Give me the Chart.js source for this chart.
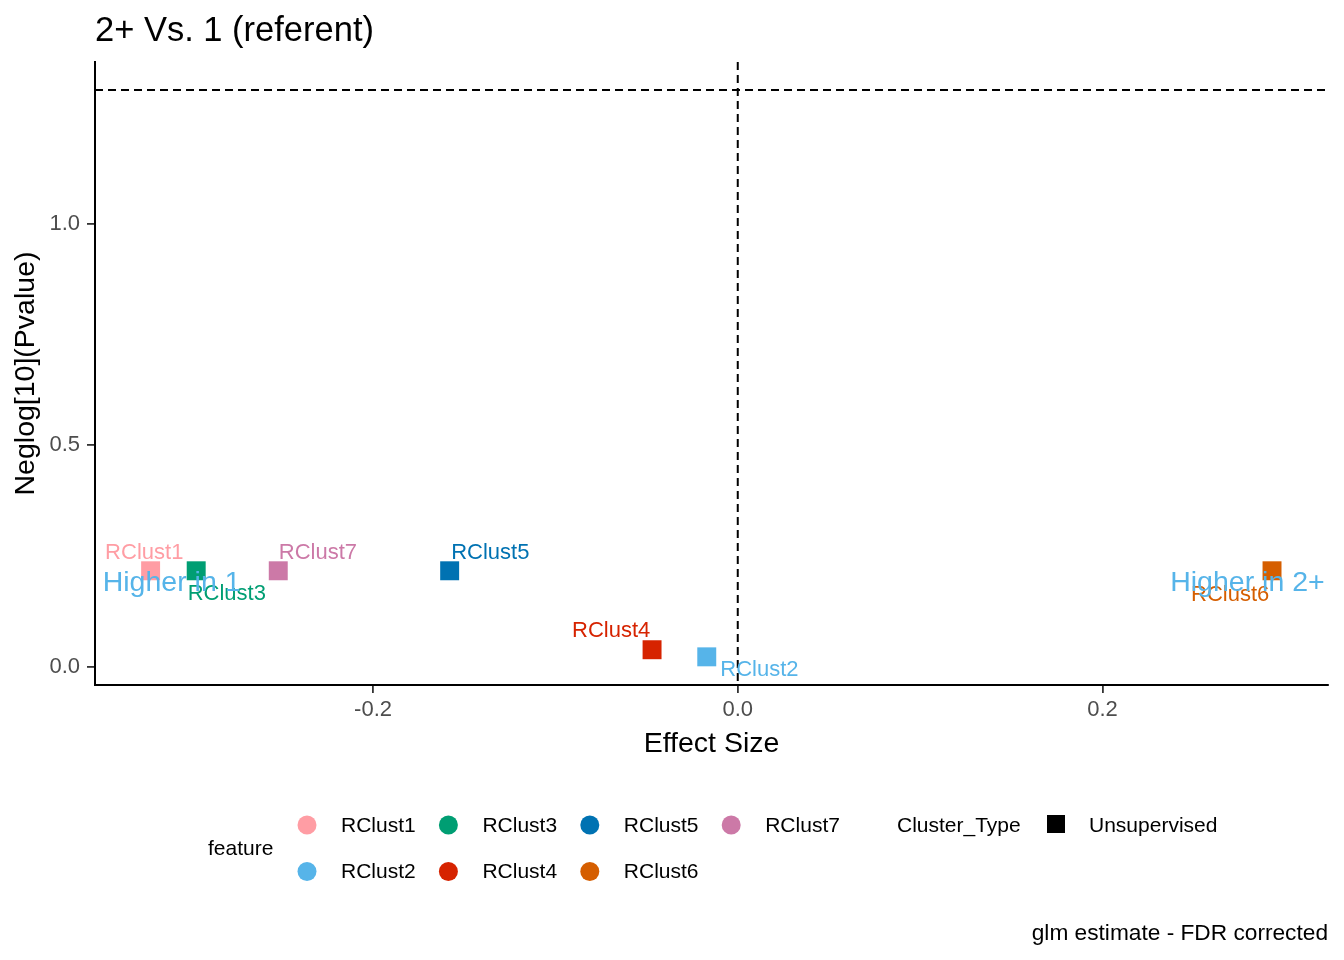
<!DOCTYPE html>
<html>
<head>
<meta charset="utf-8">
<script src="https://cdn.jsdelivr.net/npm/chart.js@4"></script>
<style>
  html, body { margin: 0; padding: 0; background: #fff; }
  canvas { display: block; }
</style>
</head>
<body>
<canvas id="volcano" width="1344" height="960"></canvas>
<script>
// data
const features = ["RClust1", "RClust2", "RClust3", "RClust4", "RClust5", "RClust6", "RClust7"];
const effectSize = [-0.322, -0.017, -0.297, -0.047, -0.158, 0.293, -0.252];
const negLogP = [0.217, 0.023, 0.217, 0.039, 0.217, 0.217, 0.217];
const xTicks = [-0.2, 0.0, 0.2];
const yTicks = [0.0, 0.5, 1.0];
const pCutoff = [-Math.log10(0.05)];
const zeroEffect = [0];
const sideNotes = ["Higher in 1", "Higher in 2+"];
const sideNoteX = [-0.3105, 0.2795];
const sideNoteY = [0.19, 0.19];

const colors = {
  RClust1: "#FF9DA4",
  RClust2: "#56B4E9",
  RClust3: "#009E73",
  RClust4: "#D62300",
  RClust5: "#0072B2",
  RClust6: "#D55E00",
  RClust7: "#CC79A7"
};

// label placement (pixel offsets from the point: left edge, baseline)
const labelNudge = {
  RClust1: [-45.5, -11.5],
  RClust2: [13.5, 19.5],
  RClust3: [-8.5, 29.5],
  RClust4: [-80, -13],
  RClust5: [1.5, -11.5],
  RClust6: [-81, 30],
  RClust7: [0.5, -11.5]
};

const FONT = "'Liberation Sans', Arial, sans-serif";

const refLines = {
  id: "refLines",
  beforeDatasetsDraw(chart) {
    const { ctx, chartArea: a, scales: { x, y } } = chart;
    ctx.save();
    ctx.strokeStyle = "#000";
    ctx.lineWidth = 2;
    ctx.setLineDash([8, 5]);
    pCutoff.forEach(v => {
      const py = y.getPixelForValue(v);
      ctx.beginPath();
      ctx.moveTo(a.left, py);
      ctx.lineTo(a.right, py);
      ctx.stroke();
    });
    zeroEffect.forEach(v => {
      const px = x.getPixelForValue(v);
      ctx.beginPath();
      ctx.moveTo(px, a.top);
      ctx.lineTo(px, a.bottom);
      ctx.stroke();
    });
    ctx.restore();
  }
};

const decorations = {
  id: "decorations",
  afterDatasetsDraw(chart) {
    const { ctx, chartArea: a, scales: { x, y } } = chart;
    ctx.save();

    // point labels
    ctx.font = `22px ${FONT}`;
    ctx.textAlign = "left";
    ctx.textBaseline = "alphabetic";
    features.forEach((f, i) => {
      const px = x.getPixelForValue(effectSize[i]);
      const py = y.getPixelForValue(negLogP[i]);
      ctx.fillStyle = colors[f];
      ctx.fillText(f, px + labelNudge[f][0], py + labelNudge[f][1]);
    });

    // direction notes
    ctx.font = `28.5px ${FONT}`;
    ctx.textAlign = "center";
    ctx.textBaseline = "middle";
    ctx.fillStyle = "#56B4E9";
    sideNotes.forEach((t, i) => {
      ctx.fillText(t, x.getPixelForValue(sideNoteX[i]), y.getPixelForValue(sideNoteY[i]));
    });

    // title
    ctx.fillStyle = "#000";
    ctx.font = `34.5px ${FONT}`;
    ctx.textAlign = "left";
    ctx.textBaseline = "alphabetic";
    ctx.fillText("2+ Vs. 1 (referent)", a.left, 41);

    // axis titles
    ctx.font = `28.5px ${FONT}`;
    ctx.textAlign = "center";
    ctx.fillText("Effect Size", (a.left + a.right) / 2, 752);
    ctx.save();
    ctx.translate(26, (a.top + a.bottom) / 2);
    ctx.rotate(-Math.PI / 2);
    ctx.textBaseline = "middle";
    ctx.fillText("Neglog[10](Pvalue)", 0, 0);
    ctx.restore();

    // caption
    ctx.font = `22.7px ${FONT}`;
    ctx.textAlign = "right";
    ctx.fillText("glm estimate - FDR corrected", a.right, 940);

    // legend
    ctx.font = `21px ${FONT}`;
    ctx.textAlign = "left";
    ctx.textBaseline = "middle";
    ctx.fillText("feature", 208, 849);
    const legendOrder = ["RClust1", "RClust2", "RClust3", "RClust4", "RClust5", "RClust6", "RClust7"];
    legendOrder.forEach((f, i) => {
      const col = Math.floor(i / 2);
      const row = i % 2;
      const cx = 307 + col * 141.4;
      const cy = 825 + row * 46.5;
      ctx.fillStyle = colors[f];
      ctx.beginPath();
      ctx.arc(cx, cy, 9.5, 0, Math.PI * 2);
      ctx.fill();
      ctx.fillStyle = "#000";
      ctx.fillText(f, cx + 34, cy + 1);
    });
    ctx.fillText("Cluster_Type", 897, 826);
    ctx.fillRect(1047, 815, 18, 18);
    ctx.fillText("Unsupervised", 1089, 826);

    ctx.restore();
  }
};

new Chart(document.getElementById("volcano").getContext("2d"), {
  type: "scatter",
  data: {
    datasets: features.map((f, i) => ({
      label: f,
      data: [{ x: effectSize[i], y: negLogP[i] }],
      backgroundColor: colors[f],
      borderWidth: 0,
      pointStyle: "rect",
      pointRadius: 13.4,
      pointHoverRadius: 13.4
    }))
  },
  options: {
    responsive: false,
    animation: false,
    events: [],
    devicePixelRatio: 1,
    layout: { padding: { top: 62, right: 16, bottom: 0, left: 0 } },
    plugins: {
      legend: { display: false },
      title: { display: false },
      tooltip: { enabled: false }
    },
    scales: {
      x: {
        type: "linear",
        min: -0.3525,
        max: 0.3237,
        afterFit: s => { s.height = 275; },
        afterBuildTicks: s => { s.ticks = xTicks.map(v => ({ value: v })); },
        border: { display: true, color: "#000", width: 2 },
        grid: { display: true, drawOnChartArea: false, drawTicks: true, tickLength: 8, color: "#333", lineWidth: 1.8 },
        ticks: {
          color: "#4D4D4D",
          padding: 4,
          font: { size: 22, family: FONT },
          callback: v => v.toFixed(1)
        }
      },
      y: {
        type: "linear",
        min: -0.0405,
        max: 1.364,
        afterFit: s => { s.width = 95; },
        afterBuildTicks: s => { s.ticks = yTicks.map(v => ({ value: v })); },
        border: { display: true, color: "#000", width: 2 },
        grid: { display: true, drawOnChartArea: false, drawTicks: true, tickLength: 8, color: "#333", lineWidth: 1.8 },
        ticks: {
          color: "#4D4D4D",
          padding: 7,
          font: { size: 22, family: FONT },
          callback: v => v.toFixed(1)
        }
      }
    }
  },
  plugins: [refLines, decorations]
});
</script>
</body>
</html>
